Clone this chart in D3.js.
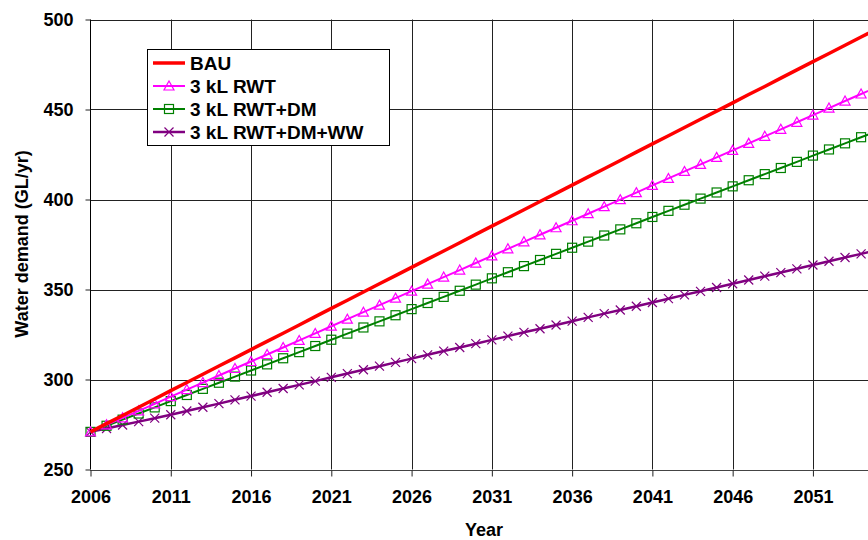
<!DOCTYPE html>
<html><head><meta charset="utf-8">
<script src="https://cdn.jsdelivr.net/npm/d3@7"></script>
<style>
html,body{margin:0;padding:0;background:#fff;overflow:hidden}
text{font-family:"Liberation Sans",Arial,sans-serif;font-weight:bold;fill:#000}
</style></head>
<body>
<svg id="chart" width="868" height="540"></svg>
<script>
const years = d3.range(2006, 2057);
const seriesNames = ["BAU", "3 kL RWT", "3 kL RWT+DM", "3 kL RWT+DM+WW"];
const bau = [270.9,275.5,280.0,284.6,289.2,293.8,298.3,302.9,307.5,312.0,316.6,321.2,325.7,330.3,334.9,339.5,344.0,348.6,353.2,357.7,362.3,366.9,371.4,376.0,380.6,385.2,389.7,394.3,398.9,403.4,408.0,412.6,417.1,421.7,426.3,430.9,435.4,440.0,444.6,449.1,453.7,458.3,462.8,467.4,472.0,476.6,481.1,485.7,490.3,494.8,499.4];
const rwt = [270.9,274.8,278.7,282.6,286.5,290.5,294.4,298.3,302.2,306.1,310.0,313.9,317.8,321.7,325.6,329.6,333.5,337.4,341.3,345.2,349.1,353.0,356.9,360.8,364.7,368.7,372.6,376.5,380.4,384.3,388.2,392.1,396.0,399.9,403.8,407.8,411.7,415.6,419.5,423.4,427.3,431.2,435.1,439.0,442.9,446.9,450.8,454.7,458.6,462.5,466.4];
const rwtDm = [270.9,274.3,277.7,281.1,284.5,288.0,291.4,294.8,298.2,301.6,305.0,308.4,311.8,315.2,318.6,322.1,325.5,328.9,332.3,335.7,339.1,342.5,345.9,349.3,352.7,356.2,359.6,363.0,366.4,369.8,373.2,376.6,380.0,383.4,386.8,390.3,393.7,397.1,400.5,403.9,407.3,410.7,414.1,417.5,420.9,424.4,427.8,431.2,434.6,438.0,441.4];
const rwtDmWw = [270.9,272.8,274.7,276.6,278.5,280.4,282.5,284.6,286.6,288.7,290.8,292.9,295.0,297.0,299.1,301.2,303.3,305.4,307.4,309.5,311.6,313.7,315.8,317.8,319.9,322.0,324.1,326.2,328.2,330.3,332.4,334.5,336.6,338.6,340.7,342.8,344.9,347.0,349.0,351.1,353.2,355.3,357.4,359.4,361.5,363.6,365.7,367.8,369.8,371.9,374.0];
const xTicks = [2006, 2011, 2016, 2021, 2026, 2031, 2036, 2041, 2046, 2051];
const yTicks = [250, 300, 350, 400, 450, 500];
const colors = ["#ff0000", "#ff00ff", "#008000", "#800080"];
const markers = ["none", "triangle", "square", "cross"];
const widths = [3.5, 2, 2, 2.5];

const svg = d3.select("#chart");
const x = d3.scaleLinear().domain([2006, 2056]).range([90.5, 893.2]);
const y = d3.scaleLinear().domain([250, 500]).range([469.5, 19.5]);
const W = 868;

// grid
const grid = svg.append("g");
grid.selectAll(".hg").data(yTicks.slice(1)).enter().append("line")
  .attr("x1", 90).attr("x2", W).attr("y1", d => Math.round(y(d)) + 0.5).attr("y2", d => Math.round(y(d)) + 0.5)
  .attr("stroke", "#222").attr("stroke-width", 1);
grid.selectAll(".vg").data(xTicks.slice(1)).enter().append("line")
  .attr("x1", d => Math.round(x(d)) + 0.5).attr("x2", d => Math.round(x(d)) + 0.5).attr("y1", y(500)).attr("y2", y(250))
  .attr("stroke", "#222").attr("stroke-width", 1);

// axes
const yAxis = d3.axisLeft(y).tickValues(yTicks).tickSize(5).tickPadding(12).tickFormat(d3.format("d"));
const gy = svg.append("g").attr("transform", "translate(90.5,0)").call(yAxis);
gy.select(".domain").attr("stroke", "#000").attr("d", `M0,${y(500)}V${y(250)}`);
gy.selectAll(".tick line").attr("stroke", "#222");
gy.selectAll("text").style("font-size", "18px").attr("dy", "0.36em");

const xAxis = d3.axisBottom(x).tickValues(xTicks).tickSize(6).tickPadding(14).tickFormat(d3.format("d"));
const gx = svg.append("g").attr("transform", `translate(0,${Math.round(y(250)) + 0.5})`).call(xAxis);
gx.select(".domain").attr("stroke", "#444").attr("d", `M90,0H${W}`);
gx.selectAll(".tick line").attr("stroke", "#222");
gx.selectAll("text").style("font-size", "18px");

// axis titles
svg.append("text").attr("x", 484).attr("y", 536).attr("text-anchor", "middle").style("font-size", "18px").text("Year");
svg.append("text").attr("transform", "translate(28,244) rotate(-90)").attr("text-anchor", "middle").style("font-size", "18px").text("Water demand (GL/yr)");

// markers
function drawMarker(g, type, color, cx, cy) {
  if (type === "triangle") {
    g.append("path").attr("d", `M${cx},${cy-5}L${cx+5},${cy+4}L${cx-5},${cy+4}Z`).attr("fill", "none").attr("stroke", color).attr("stroke-width", 1.2);
  } else if (type === "square") {
    g.append("rect").attr("x", cx-4.5).attr("y", cy-4.5).attr("width", 9).attr("height", 9).attr("fill", "none").attr("stroke", color).attr("stroke-width", 1.2);
  } else if (type === "cross") {
    g.append("path").attr("d", `M${cx-4.5},${cy-4.5}L${cx+4.5},${cy+4.5}M${cx-4.5},${cy+4.5}L${cx+4.5},${cy-4.5}`).attr("stroke", color).attr("stroke-width", 1.2);
  }
}

const allSeries = [bau, rwt, rwtDm, rwtDmWw];
const line = d3.line().x((d, i) => x(years[i])).y(d => y(d));
const plot = svg.append("g");
for (let s = allSeries.length - 1; s >= 0; s--) {
  const g = plot.append("g");
  g.append("path").datum(allSeries[s]).attr("d", line).attr("fill", "none")
    .attr("stroke", colors[s]).attr("stroke-width", widths[s]);
  if (markers[s] !== "none") {
    allSeries[s].forEach((v, i) => drawMarker(g, markers[s], colors[s], x(years[i]), y(v)));
  }
}

// legend
const lg = svg.append("g");
lg.append("rect").attr("x", 147.5).attr("y", 49.5).attr("width", 242).attr("height", 96).attr("fill", "#fff").attr("stroke", "#000").attr("stroke-width", 1);
const rowY = [63, 86, 109, 132];
seriesNames.forEach((name, i) => {
  lg.append("line").attr("x1", 153).attr("x2", 185).attr("y1", rowY[i]).attr("y2", rowY[i])
    .attr("stroke", colors[i]).attr("stroke-width", widths[i]);
  if (markers[i] !== "none") drawMarker(lg, markers[i], colors[i], 169, rowY[i]);
  lg.append("text").attr("x", 190).attr("y", rowY[i]).attr("dy", "0.36em").style("font-size", "19px").text(name);
});
</script>
</body></html>
